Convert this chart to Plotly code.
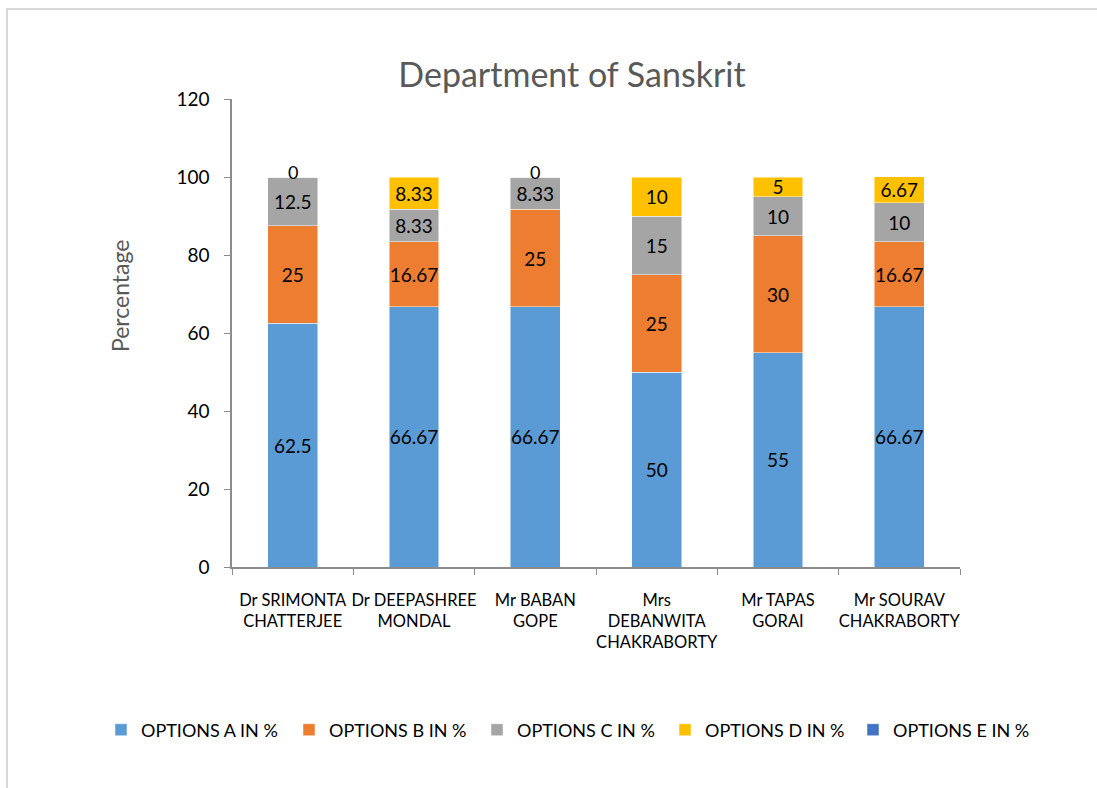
import plotly.graph_objects as go

categories = ["Dr SRIMONTA<br>CHATTERJEE", "Dr DEEPASHREE<br>MONDAL", "Mr BABAN<br>GOPE",
              "Mrs<br>DEBANWITA<br>CHAKRABORTY", "Mr TAPAS<br>GORAI", "Mr SOURAV<br>CHAKRABORTY"]
option_a = [62.5, 66.67, 66.67, 50, 55, 66.67]
option_b = [25, 16.67, 25, 25, 30, 16.67]
option_c = [12.5, 8.33, 8.33, 15, 10, 10]
option_d = [0, 8.33, 0, 10, 5, 6.67]
option_e = [None, None, None, None, None, None]

series = [
    ("OPTIONS A IN %", option_a, "#5B9BD5"),
    ("OPTIONS B IN %", option_b, "#ED7D31"),
    ("OPTIONS C IN %", option_c, "#A5A5A5"),
    ("OPTIONS D IN %", option_d, "#FFC000"),
    ("OPTIONS E IN %", option_e, "#4472C4"),
]

FONT = "Lato"
W, H = 1097, 788
L, R, T, B = 232, 960, 99, 567   # plot area in page pixels
PW, PH = R - L, B - T


def px_x(x):
    return (x - L) / PW


def px_y(y):
    return (B - y) / PH


fig = go.Figure()
for name, vals, color in series:
    texts = [("" if (v is None or v == 0) else f"{v:g}") for v in vals]
    fig.add_trace(go.Bar(
        x=categories, y=vals, name=name,
        marker=dict(color=color, line=dict(color="rgba(255,255,255,0.6)", width=0.8)),
        text=texts, textposition="inside", insidetextanchor="middle", textangle=0,
        textfont=dict(family=FONT, size=19, color="#000000"),
        constraintext="none", cliponaxis=False,
    ))

# zero labels for option D sitting on top of stacks
tops = [a + b + c for a, b, c in zip(option_a, option_b, option_c)]
for cat, t, d in zip(categories, tops, option_d):
    if d == 0:
        fig.add_annotation(x=cat, y=t, text="0", showarrow=False, yshift=5,
                           xanchor="center", yanchor="middle",
                           font=dict(family=FONT, size=18, color="#000000"))

fig.update_layout(
    width=W, height=H,
    barmode="stack", bargap=0.59,
    plot_bgcolor="white", paper_bgcolor="white",
    margin=dict(l=L, r=W - R, t=T, b=H - B, autoexpand=False),
    font=dict(family=FONT, color="#000000"),
    title=dict(text="Department of Sanskrit", x=572 / W, xref="container", xanchor="center",
               y=1 - 75 / H, yref="container", yanchor="middle",
               font=dict(family=FONT, size=34, color="#595959")),
    showlegend=True,
    legend=dict(orientation="h", x=px_x(101), xanchor="left", y=px_y(730), yanchor="middle",
                entrywidth=143, entrywidthmode="pixels", traceorder="normal",
                font=dict(family=FONT, size=18, color="#000000"), itemwidth=30),
)
fig.update_yaxes(range=[0, 120], dtick=20, showline=True, linecolor="#8C8C8C", linewidth=1.5,
                 ticks="outside", ticklen=6, tickcolor="#8C8C8C", showgrid=False, zeroline=False,
                 tickfont=dict(family=FONT, size=19, color="#000000"), ticklabelstandoff=11,
                 automargin=False)
fig.update_xaxes(showline=True, linecolor="#8C8C8C", linewidth=1.5, ticks="outside", ticklen=6,
                 tickcolor="#8C8C8C", tickson="boundaries", showgrid=False, tickangle=0,
                 tickfont=dict(family=FONT, size=16.5, color="#000000"), ticklabelstandoff=17,
                 automargin=False)

fig.add_annotation(text="Percentage", xref="paper", yref="paper", x=px_x(120),
                   y=px_y(296), xanchor="center", yanchor="middle", textangle=-90, showarrow=False,
                   font=dict(family=FONT, size=23, color="#595959"))
fig.add_shape(type="rect", xref="paper", yref="paper",
              x0=px_x(7), x1=px_x(1110), y0=px_y(800), y1=px_y(9),
              line=dict(color="#D9D9D9", width=2), fillcolor="rgba(0,0,0,0)", layer="below")

fig.write_html("out.html", config={"displayModeBar": False},
               post_script="document.body.style.margin='0px';document.body.style.overflow='hidden';")
